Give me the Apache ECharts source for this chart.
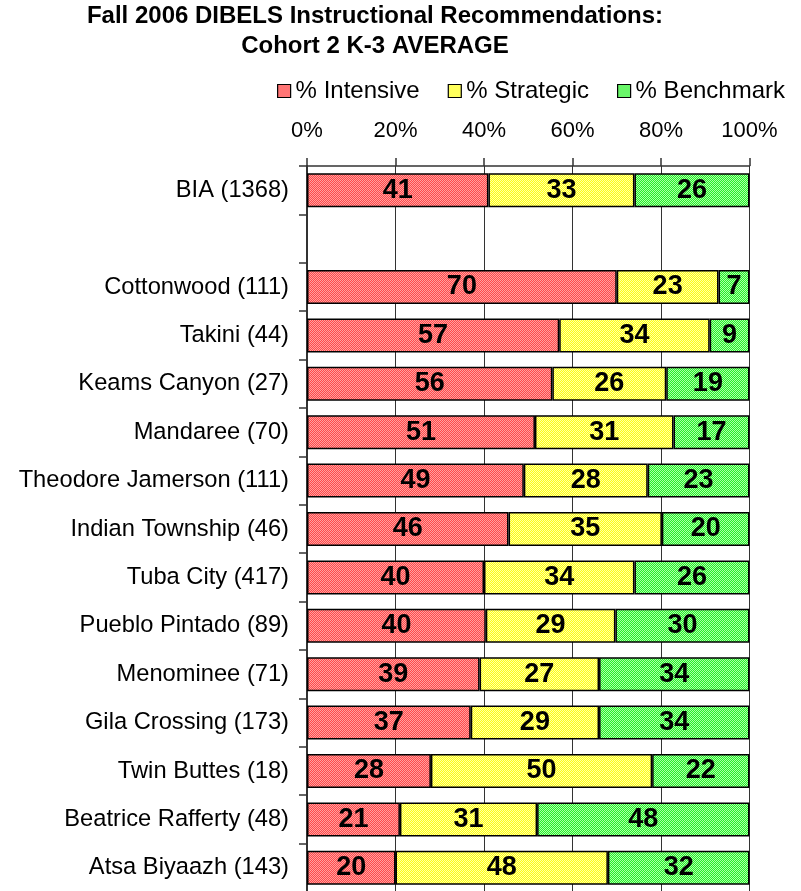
<!DOCTYPE html>
<html>
<head>
<meta charset="utf-8">
<script src="https://cdn.jsdelivr.net/npm/echarts@6/dist/echarts.min.js"></script>
<style>
html,body{margin:0;padding:0;background:#fff;}
#chart{width:801px;height:891px;}
</style>
</head>
<body>
<div id="chart"></div>
<script>
const categories = ['BIA (1368)', '', 'Cottonwood (111)', 'Takini (44)', 'Keams Canyon (27)', 'Mandaree (70)',
  'Theodore Jamerson (111)', 'Indian Township (46)', 'Tuba City (417)', 'Pueblo Pintado (89)', 'Menominee (71)',
  'Gila Crossing (173)', 'Twin Buttes (18)', 'Beatrice Rafferty (48)', 'Atsa Biyaazh (143)'];
const intensive = [41, null, 70, 57, 56, 51, 49, 46, 40, 40, 39, 37, 28, 21, 20];
const strategic = [33, null, 23, 34, 26, 31, 28, 35, 34, 29, 27, 29, 50, 31, 48];
const benchmark = [26, null, 7, 9, 19, 17, 23, 20, 26, 30, 34, 34, 22, 48, 32];
const seriesNames = ['% Intensive', '% Strategic', '% Benchmark'];
const xTicks = [0, 20, 40, 60, 80, 100];

function pattern(dark, light) {
  const cv = document.createElement('canvas');
  cv.width = 2; cv.height = 2;
  const ctx = cv.getContext('2d');
  ctx.fillStyle = dark; ctx.fillRect(0, 0, 2, 2);
  ctx.fillStyle = light; ctx.fillRect(0, 0, 1, 1); ctx.fillRect(1, 1, 1, 1);
  return { image: cv, repeat: 'repeat' };
}
const fills = [
  pattern('#ff4a4a', '#ffa0a0'),
  pattern('#ffff10', '#ffffa8'),
  pattern('#28ee28', '#aaffaa')
];

const raw = [intensive, strategic, benchmark];
function rowSum(i) { return intensive[i] + strategic[i] + benchmark[i]; }
const series = raw.map((arr, s) => ({
  name: seriesNames[s],
  type: 'bar',
  stack: 'total',
  barWidth: 34,
  itemStyle: { color: fills[s], borderColor: '#000', borderWidth: 1.5 },
  label: {
    show: true, position: 'inside', color: '#000', fontSize: 27, fontWeight: 'bold',
    fontFamily: 'Liberation Sans, Arial, sans-serif',
    formatter: p => (p.data && p.data.raw != null ? String(p.data.raw) : '')
  },
  emphasis: { disabled: true },
  data: arr.map((v, i) => v == null ? '-' : { value: v * 100 / rowSum(i), raw: v })
}));

const chart = echarts.init(document.getElementById('chart'), null, { renderer: 'canvas' });
chart.setOption({
  animation: false,
  backgroundColor: '#fff',
  title: {
    text: 'Fall 2006 DIBELS Instructional Recommendations:\nCohort 2 K-3 AVERAGE',
    left: 375, top: 1, padding: 0, textAlign: 'center',
    textStyle: { fontSize: 24, fontWeight: 'bold', lineHeight: 30, color: '#000', fontFamily: 'Liberation Sans, Arial, sans-serif' }
  },
  legend: {
    data: seriesNames,
    right: 16, top: 79, padding: 0,
    icon: 'rect', itemWidth: 13, itemHeight: 13, itemGap: 28,
    textStyle: { fontSize: 24, color: '#000', fontFamily: 'Liberation Sans, Arial, sans-serif' },
    itemStyle: { borderColor: '#000', borderWidth: 1.2 }
  },
  grid: { left: 307, right: 51.5, top: 166, height: 726, containLabel: false, outerBoundsMode: 'none' },
  xAxis: {
    type: 'value', position: 'top', min: 0, max: 100, interval: 20,
    axisLine: { show: true, lineStyle: { color: '#333', width: 1.5 } },
    axisTick: { show: true, length: 8, inside: false, lineStyle: { color: '#333', width: 1.5 } },
    axisLabel: { formatter: v => xTicks.includes(v) ? v + '%' : '', fontSize: 22, color: '#000', margin: 24,
      fontFamily: 'Liberation Sans, Arial, sans-serif' },
    splitLine: { show: true, lineStyle: { color: '#333', width: 1 } }
  },
  yAxis: {
    type: 'category', inverse: true, data: categories,
    axisLine: { show: true, lineStyle: { color: '#333', width: 2 } },
    axisTick: { show: true, length: 8, alignWithLabel: false, lineStyle: { color: '#333', width: 1.5 } },
    axisLabel: { fontSize: 23.7, color: '#000', margin: 18, fontFamily: 'Liberation Sans, Arial, sans-serif' },
    splitLine: { show: false }
  },
  series: series
});
</script>
</body>
</html>
